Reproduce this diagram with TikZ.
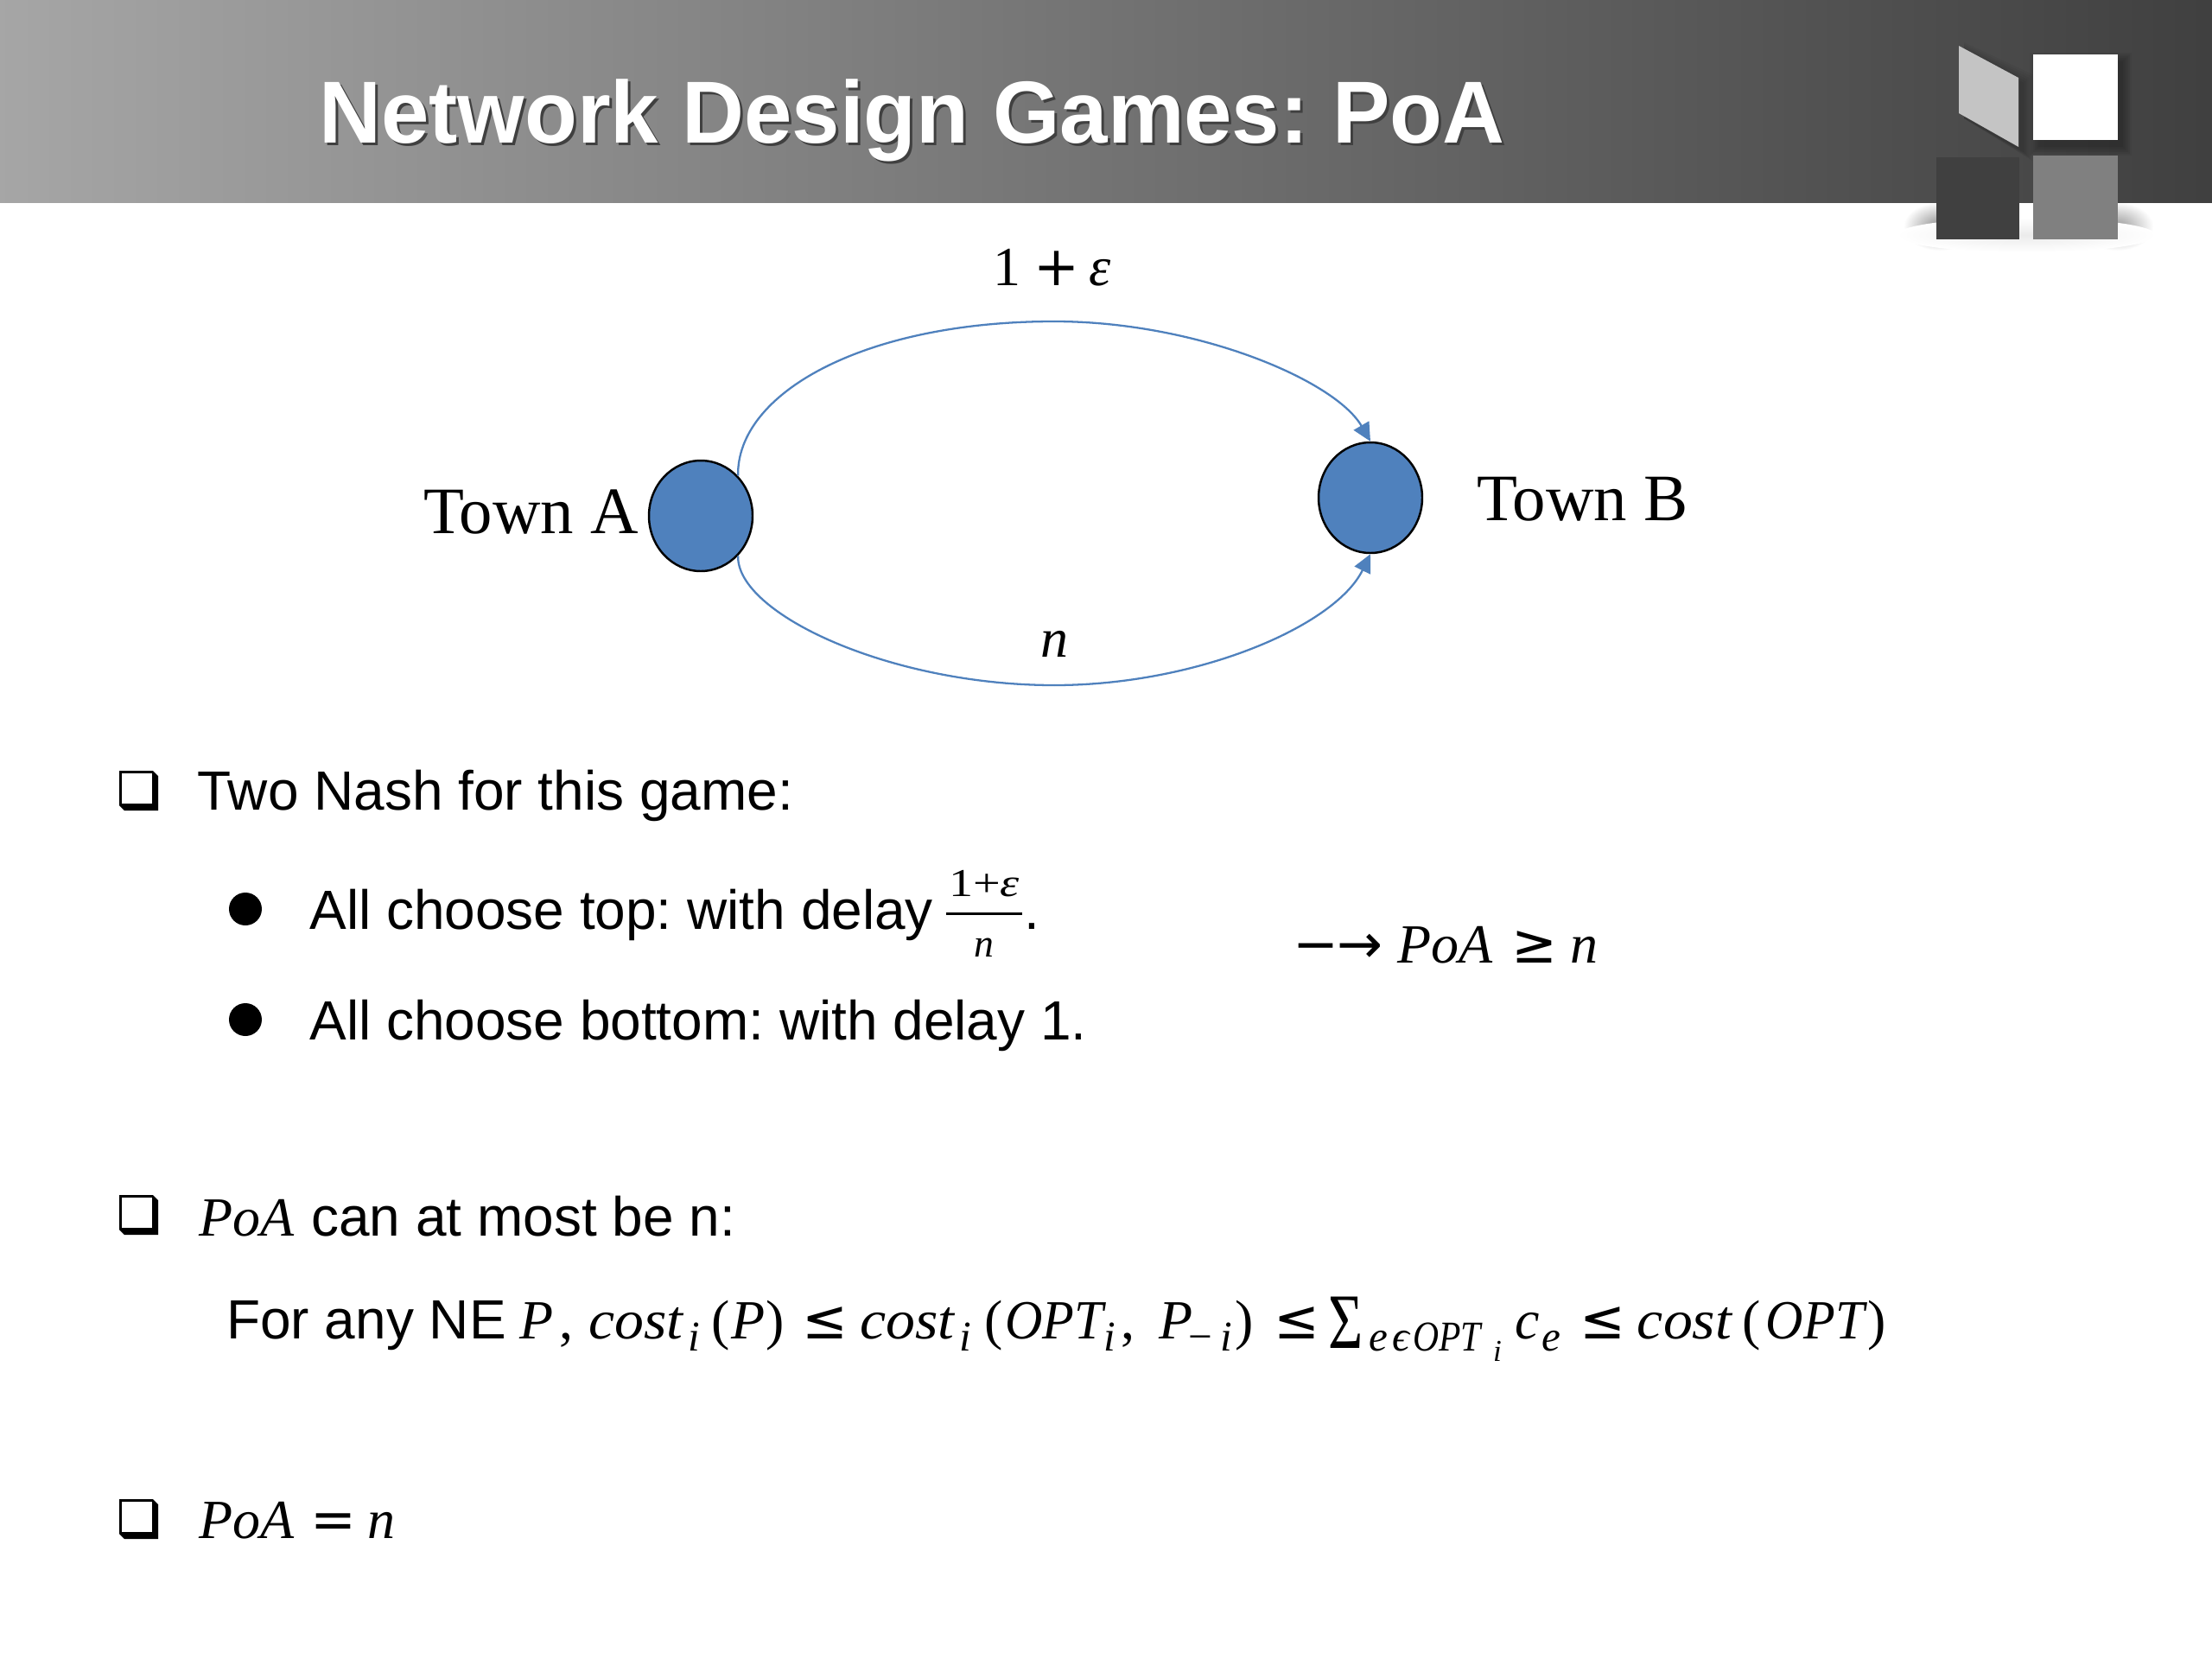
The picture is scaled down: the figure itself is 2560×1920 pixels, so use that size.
\documentclass[tikz,border=0pt]{standalone}
\usepackage{fontspec}
\setmainfont{Liberation Sans}
\newfontfamily\serifx{Liberation Serif}
\newfontfamily\mth{Liberation Serif}
\newfontfamily\symf{DejaVu Sans}
\usetikzlibrary{arrows.meta,shapes.geometric}
\definecolor{townblue}{HTML}{4F81BD}
\definecolor{linkblue}{HTML}{4F81BD}
\newlength{\pxu}\setlength{\pxu}{0.569pt}
\newcommand{\mi}[1]{{\mth\itshape #1}}
\newcommand{\mr}[1]{{\mth\upshape #1}}
\newcommand{\seg}[2]{\makebox[#1\pxu][l]{#2}}
\newcommand{\rel}[1]{{\symf\fontsize{36}{38}\selectfont #1}}
\newcommand{\cst}{\scalebox{1.06}[1]{\mi{cost}}}
\newcommand{\opt}{\scalebox{0.94}[1]{\mi{OPT}}}
\newcommand{\sbs}[1]{\raisebox{-8pt}{\fontsize{28}{30}\selectfont #1}}
\newcommand{\sbsb}[1]{\raisebox{-15pt}{\fontsize{20}{22}\selectfont #1}}
\newcommand{\bigsum}{\raisebox{-6.3pt}{\scalebox{1.08}[1.42]{\mr{Σ}}}}
\newcommand{\checkbox}[2]{%
  \fill[black] (#1,#2) -- (#1+39,#2) -- (#1+45,#2+6) -- (#1+45,#2+46) -- (#1+6,#2+46) -- (#1,#2+40) -- cycle;
  \fill[white] (#1+3,#2+3) rectangle (#1+38,#2+38);}
\tikzset{
  x=0.02cm,y=-0.02cm,
  town/.style={ellipse,draw=black,fill=townblue,line width=1.4pt,inner sep=0pt,minimum width=2.4cm,minimum height=2.56cm},
  linkline/.style={draw=linkblue,line width=1.3pt},
  link/.style={linkline,-{Triangle[length=12pt,width=11.5pt,fill=linkblue]}},
  body/.style={anchor=base west,inner sep=0pt,font=\fontsize{36.4}{40}\selectfont},
  townlabel/.style={anchor=base west,inner sep=0pt,font=\serifx\fontsize{43.7}{46}\selectfont},
  titletext/.style={anchor=base west,inner sep=0pt,font=\bfseries\fontsize{58}{62}\selectfont},
  small/.style={anchor=base,inner sep=0pt,font=\fontsize{26}{28}\selectfont},
  dotbullet/.style={circle,fill=black,inner sep=0pt,minimum size=0.76cm},
}
\begin{document}
\frenchspacing
\begin{tikzpicture}
\useasboundingbox (0,0) rectangle (2560,1920);
\fill[white] (0,0) rectangle (2560,1920);
% banner
\shade[left color=black!35,middle color=black!52,right color=black!75] (0,0) rectangle (2560,234);
% logo shadows
\begin{scope}
\clip (2100,235) rectangle (2560,340);
\shade[inner color=black!45,outer color=white] (2245,262) ellipse (42 and 28);
\shade[inner color=black!40,outer color=white] (2450,262) ellipse (42 and 28);
\shade[inner color=black!8,outer color=white] (2345,272) ellipse (150 and 20);
\end{scope}
% logo
\foreach \d in {0,2,...,10}{
  \fill[black,opacity=0.05] (2353+6-\d,63+8-\d) rectangle (2451+6+\d,162+8+\d);
  \fill[black,opacity=0.04] (2267+6,53+6-\d) -- (2336+6+\d,90+6-\d) -- (2336+6+\d,170+6+\d) -- (2267+6,131+6) -- cycle;
}
\fill[black!23] (2267,53) -- (2336,90) -- (2336,170) -- (2267,131) -- cycle;
\fill[white] (2353,63) rectangle (2451,162);
\fill[black!75] (2241,182) rectangle (2337,277);
\fill[black!50] (2353,180) rectangle (2451,277);
% title
\node[titletext,text=black!75] (titleshadow) at (372,168) {\scalebox{0.977}[1]{Network Design Games: PoA}};
\node[titletext,text=white] (title) at (369,165) {\scalebox{0.977}[1]{Network Design Games: PoA}};
% graph
\node[town] (A) at (811,597) {};
\node[town] (B) at (1586,576) {};
\coordinate (topmid) at (1220,372);
\coordinate (botmid) at (1220,793);
\draw[linkline] (A.47) .. controls (852,455) and (1000,372) .. (topmid);
\draw[link] (topmid) .. controls (1385,372) and (1545,440) .. (B.north);
\draw[linkline] (A.-47) .. controls (852,710) and (1030,793) .. (botmid);
\draw[link] (botmid) .. controls (1385,793) and (1545,725) .. (B.south);
\node[townlabel] (ta) at (490,617) {Town A};
\node[townlabel] (tb) at (1709,602) {Town B};
\node[body] (top) at (1149,330) {\seg{47}{\mr{1}}\seg{64}{\rel{+}}\mi{ε}};
\node[body,anchor=base] (bot) at (1220,760) {\mi{n}};
% bullets
\checkbox{138}{892}
\node[body] (l1) at (228,937) {Two Nash for this game:};
\node[dotbullet] (d1) at (284,1052) {};
\node[body] (l2) at (358,1075) {All choose top: with delay};
\node[small] (fn) at (1139,1037) {\scalebox{1.23}[1]{\mr{1+}\mi{ε}}};
\coordinate (fa) at (1095,1057);
\coordinate (fb) at (1183,1057);
\draw[line width=1.7pt] (fa) -- (fb);
\node[small] (fd) at (1139,1107) {\mi{n}};
\node[body] (fdot) at (1185,1075) {.};
\node[dotbullet] (d2) at (284,1180) {};
\node[body] (l3) at (358,1203) {All choose bottom: with delay 1.};
\node[body] (res) at (1496,1114) {\seg{51}{\rel{−}}\seg{70}{\rel{→}}\seg{132}{\mi{PoA}}\seg{68}{\rel{≥}}\mi{n}};
\checkbox{138}{1383}
\node[body] (l4) at (230,1430) {\seg{130}{\mi{PoA}}\seg{500}{can at most be n:}};
\node[body] (l5) at (262,1549) {For any NE};
\node[body] (l5m) at (601,1549) {\seg{46}{\mi{P}}\seg{34}{\mr{,}}\seg{115}{\cst}\seg{27}{\sbs{\mi{i}}}\seg{23}{\mr{(}}\seg{40}{\mi{P}}\seg{42}{\mr{)}}\seg{67}{\rel{≤}}\seg{115}{\cst}\seg{29}{\sbs{\mi{i}}}\seg{24}{\mr{(}}\seg{114}{\opt}\seg{20}{\sbs{\mi{i}}}\seg{44}{\mr{,}}\seg{34}{\mi{P}}\seg{37}{\sbs{\mr{−}}}\seg{17}{\sbs{\mi{i}}}\seg{45}{\mr{)}}\seg{63}{\rel{≤}}\seg{47}{\bigsum}\seg{27}{\sbs{\mi{e}}}\seg{24}{\sbs{\mi{ϵ}}}\seg{93}{\scalebox{0.9}[1]{\sbs{\opt}}}\seg{25}{\sbsb{\mi{i}}}\seg{31}{\mi{c}}\seg{45}{\sbs{\mi{e}}}\seg{66}{\rel{≤}}\seg{122}{\cst}\seg{27}{\mr{(}}\seg{118}{\opt}\mr{)}};
\checkbox{138}{1735}
\node[body] (l6) at (230,1780) {\seg{129}{\mi{PoA}}\seg{66}{\rel{=}}\mi{n}};
\end{tikzpicture}
\end{document}
